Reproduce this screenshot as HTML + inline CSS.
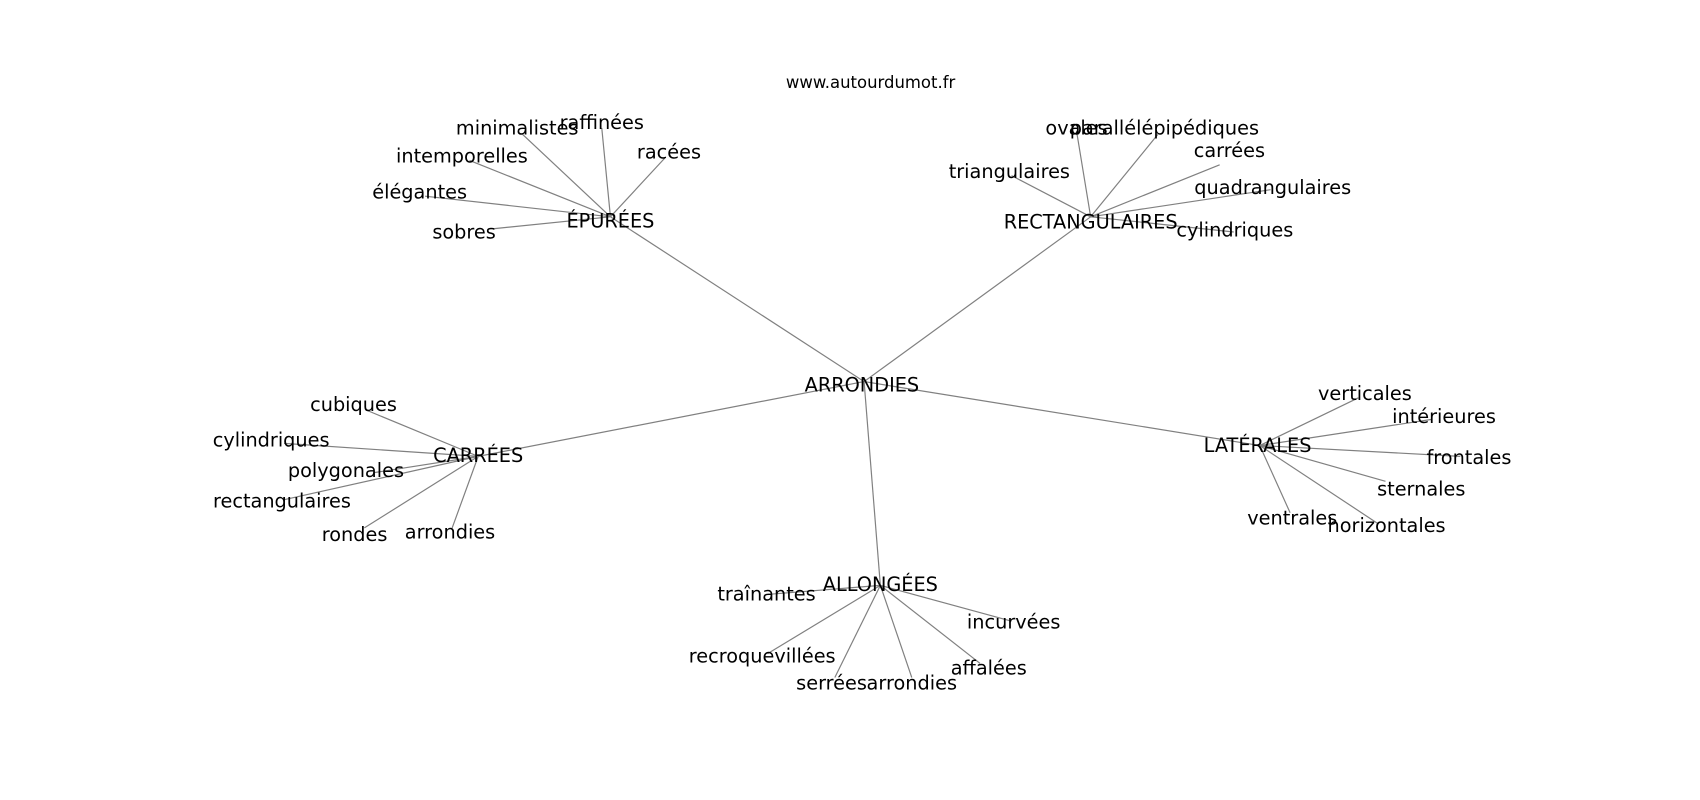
<!DOCTYPE html>
<html><head><meta charset="utf-8"><style>
html,body{margin:0;padding:0;background:#fff;}
svg{display:block;}
text{font-family:"DejaVu Sans","Liberation Sans",sans-serif;font-size:17.8px;fill:#000;text-anchor:middle;dominant-baseline:central;}
line{stroke:#808080;stroke-width:1.1;}
</style></head><body>
<svg width="1700" height="800" viewBox="0 0 1568 738" xmlns="http://www.w3.org/2000/svg">
<g>
<line x1="797" y1="352" x2="563" y2="200"/>
<line x1="797" y1="352" x2="1006" y2="200"/>
<line x1="797" y1="352" x2="441" y2="421"/>
<line x1="797" y1="352" x2="1162" y2="411"/>
<line x1="797" y1="352" x2="812" y2="540"/>

<line x1="563" y1="200" x2="482" y2="124"/>
<line x1="563" y1="200" x2="555" y2="118"/>
<line x1="563" y1="200" x2="613" y2="146"/>
<line x1="563" y1="200" x2="433" y2="148"/>
<line x1="563" y1="200" x2="392" y2="181"/>
<line x1="563" y1="200" x2="455" y2="211"/>

<line x1="1006" y1="200" x2="993" y2="121"/>
<line x1="1006" y1="200" x2="933" y2="162"/>
<line x1="1006" y1="200" x2="1068" y2="124"/>
<line x1="1006" y1="200" x2="1125" y2="152"/>
<line x1="1006" y1="200" x2="1172" y2="175"/>
<line x1="1006" y1="200" x2="1138" y2="214"/>

<line x1="441" y1="421" x2="337" y2="378"/>
<line x1="441" y1="421" x2="262" y2="409"/>
<line x1="441" y1="421" x2="345" y2="436"/>
<line x1="441" y1="421" x2="262" y2="461"/>
<line x1="441" y1="421" x2="336" y2="487"/>
<line x1="441" y1="421" x2="417" y2="487"/>

<line x1="1162" y1="411" x2="1253" y2="367"/>
<line x1="1162" y1="411" x2="1320" y2="387"/>
<line x1="1162" y1="411" x2="1347" y2="421"/>
<line x1="1162" y1="411" x2="1278" y2="444"/>
<line x1="1162" y1="411" x2="1190" y2="473"/>
<line x1="1162" y1="411" x2="1271" y2="483"/>

<line x1="812" y1="540" x2="712" y2="548"/>
<line x1="812" y1="540" x2="933" y2="573"/>
<line x1="812" y1="540" x2="708" y2="603"/>
<line x1="812" y1="540" x2="770" y2="625"/>
<line x1="812" y1="540" x2="841" y2="625"/>
<line x1="812" y1="540" x2="904" y2="612"/>
</g>
<text x="803" y="76" style="font-size:15.2px">www.autourdumot.fr</text>

<text x="795" y="355">ARRONDIES</text>
<text x="563" y="204">ÉPURÉES</text>
<text x="1006" y="205">RECTANGULAIRES</text>
<text x="441" y="420">CARRÉES</text>
<text x="1160" y="411">LATÉRALES</text>
<text x="812" y="539">ALLONGÉES</text>

<text x="477" y="118">minimalistes</text>
<text x="555" y="113">raffinées</text>
<text x="617" y="140">racées</text>
<text x="426" y="144">intemporelles</text>
<text x="387" y="177">élégantes</text>
<text x="428" y="214">sobres</text>

<text x="993" y="118">ovales</text>
<text x="1074" y="118">parallélépipédiques</text>
<text x="1134" y="139">carrées</text>
<text x="931" y="158">triangulaires</text>
<text x="1174" y="173">quadrangulaires</text>
<text x="1139" y="212">cylindriques</text>

<text x="326" y="373">cubiques</text>
<text x="250" y="406">cylindriques</text>
<text x="319" y="434">polygonales</text>
<text x="260" y="462">rectangulaires</text>
<text x="327" y="493">rondes</text>
<text x="415" y="491">arrondies</text>

<text x="1259" y="363">verticales</text>
<text x="1332" y="384">intérieures</text>
<text x="1355" y="422">frontales</text>
<text x="1311" y="451">sternales</text>
<text x="1192" y="478">ventrales</text>
<text x="1279" y="485">horizontales</text>

<text x="707" y="548">traînantes</text>
<text x="935" y="574">incurvées</text>
<text x="703" y="605">recroquevillées</text>
<text x="767" y="630">serrées</text>
<text x="841" y="630">arrondies</text>
<text x="912" y="616">affalées</text>
</svg>
</body></html>
